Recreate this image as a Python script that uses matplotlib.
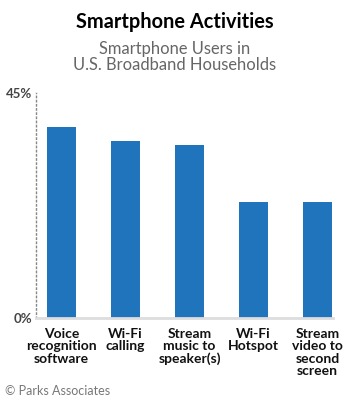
import matplotlib
matplotlib.use('Agg')
import matplotlib.pyplot as plt

categories = ['Voice\nrecognition\nsoftware', 'Wi-Fi\ncalling', 'Stream\nmusic to\nspeaker(s)',
              'Wi-Fi\nHotspot', 'Stream\nvideo to\nsecond\nscreen']
values = [38.2, 35.4, 34.6, 23.2, 23.2]
ytick_labels = ['0%', '45%']

plt.rcParams['font.family'] = ['Lato', 'DejaVu Sans']

fig = plt.figure(figsize=(3.5, 4.04), dpi=100)
W, H = 350, 404
ax = fig.add_axes([36 / W, 1 - 318 / H, (333 - 36) / W, (318 - 93) / H])

x = list(range(len(values)))
ax.bar(x, values, width=0.46, color='#1f74bb', zorder=2)
ax.set_xlim(-0.4, 4.24)
ax.set_ylim(0, 45)

for s in ['top', 'right']:
    ax.spines[s].set_visible(False)
ax.spines['left'].set_linestyle((0, (1, 2)))
ax.spines['left'].set_color('#888888')
ax.spines['left'].set_linewidth(1.0)
ax.spines['bottom'].set_color('#dddddd')
ax.spines['bottom'].set_linewidth(2.0)

ax.set_yticks([0, 45])
ax.set_yticklabels(ytick_labels, fontsize=9.5, fontweight='bold', color='#444444')
ax.tick_params(axis='y', length=0, pad=3)
ax.set_xticks(x)
ax.set_xticklabels(categories, fontsize=10, fontweight='bold', color='#111111',
                   linespacing=1.05, va='top')
ax.tick_params(axis='x', length=0, pad=7)

fig.text(0.5, 1 - 22 / H, 'Smartphone Activities', ha='center', va='center',
         fontsize=14.4, fontweight='bold', color='black')
fig.text(0.5, 1 - 57 / H, 'Smartphone Users in\nU.S. Broadband Households', ha='center',
         va='center', fontsize=11.9, color='#666666', linespacing=1.05)
fig.text(5 / W, 1 - 391 / H, '\u00a9 Parks Associates', ha='left', va='center',
         fontsize=9, color='#777777')

fig.savefig('out.png', dpi=100)
